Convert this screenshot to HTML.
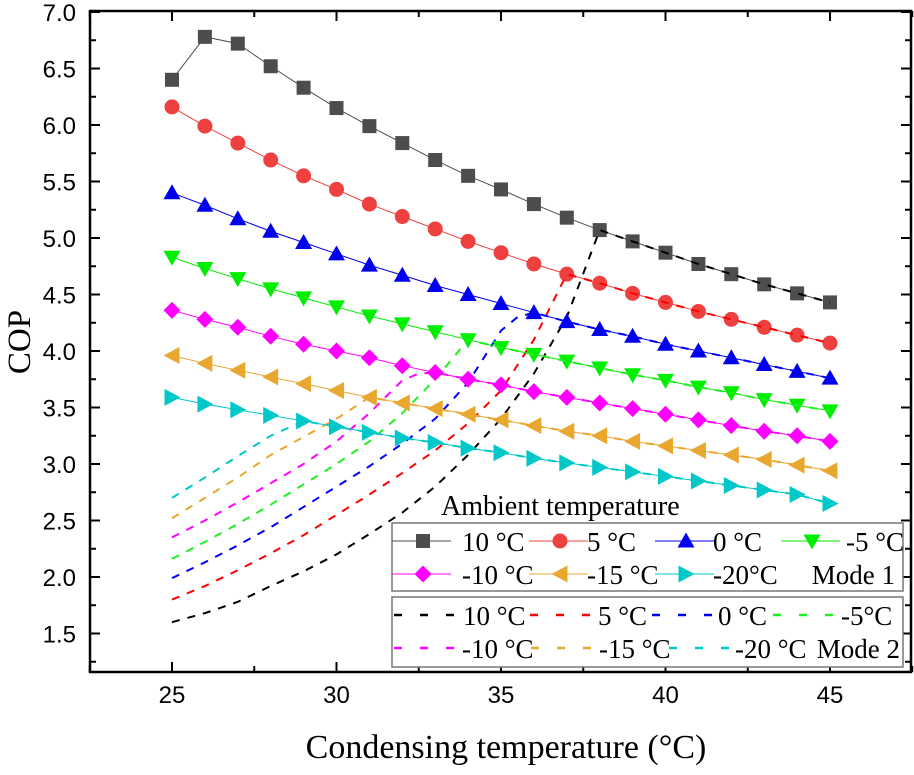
<!DOCTYPE html>
<html><head><meta charset="utf-8"><style>
body{margin:0;background:#fff}
svg text{font-family:"Liberation Serif",serif;fill:#000}
.tk{font-family:"Liberation Sans",sans-serif;font-size:24px}
</style></head><body>
<svg id="chart" width="914" height="770" xmlns="http://www.w3.org/2000/svg"></svg>
<script>
const xCats=[25,26,27,28,29,30,31,32,33,34,35,36,37,38,39,40,41,42,43,44,45];
const m1_10=[6.40,6.78,6.72,6.52,6.33,6.15,5.99,5.84,5.69,5.55,5.43,5.30,5.18,5.07,4.97,4.87,4.77,4.68,4.59,4.51,4.43];
const m1_5=[6.16,5.99,5.84,5.69,5.55,5.43,5.30,5.19,5.08,4.97,4.87,4.77,4.68,4.60,4.51,4.43,4.35,4.28,4.21,4.14,4.07];
const m1_0=[5.40,5.29,5.17,5.06,4.96,4.86,4.76,4.67,4.58,4.50,4.42,4.34,4.26,4.19,4.13,4.06,4.00,3.94,3.88,3.82,3.76];
const m1_n5=[4.83,4.73,4.64,4.55,4.47,4.39,4.31,4.24,4.17,4.10,4.03,3.97,3.91,3.85,3.79,3.74,3.68,3.63,3.57,3.52,3.47];
const m1_n10=[4.36,4.28,4.21,4.13,4.06,4.00,3.94,3.87,3.81,3.75,3.70,3.64,3.59,3.54,3.49,3.44,3.39,3.34,3.29,3.25,3.20];
const m1_n15=[3.96,3.89,3.83,3.77,3.71,3.65,3.59,3.54,3.49,3.44,3.39,3.34,3.29,3.25,3.20,3.16,3.12,3.08,3.04,2.99,2.94];
const m1_n20=[3.59,3.53,3.48,3.43,3.38,3.33,3.28,3.23,3.19,3.14,3.10,3.05,3.01,2.97,2.93,2.89,2.85,2.81,2.77,2.73,2.65];
const m2x_10=[25,26,27,28,29,30,31,32,33,34,35,36,37,38];
const m2y_10=[1.60,1.68,1.78,1.92,2.05,2.20,2.38,2.57,2.80,3.08,3.40,3.80,4.30,5.07];
const m2x_5=[25,26,27,28,29,30,31,32,33,34,35,36,37];
const m2y_5=[1.80,1.92,2.06,2.21,2.37,2.55,2.73,2.92,3.12,3.36,3.65,4.10,4.68];
const m2x_0=[25,26,27,28,29,30,31,32,33,34,35,35.5,36];
const m2y_0=[1.99,2.13,2.28,2.44,2.62,2.80,2.98,3.18,3.40,3.72,4.18,4.30,4.34];
const m2x_n5=[25,26,27,28,29,30,31,32,33,34];
const m2y_n5=[2.16,2.31,2.47,2.64,2.82,3.00,3.20,3.45,3.75,4.10];
const m2x_n10=[25,26,27,28,29,30,31,32,32.5];
const m2y_n10=[2.35,2.50,2.66,2.83,3.00,3.20,3.45,3.74,3.80];
const m2x_n15=[25,26,27,28,29,30,31];
const m2y_n15=[2.52,2.70,2.88,3.08,3.24,3.40,3.59];
const m2x_n20=[25,26,27,28,29];
const m2y_n20=[2.70,2.88,3.07,3.25,3.38];
const xTicks=[25,30,35,40,45];
const yTicks=[1.5,2.0,2.5,3.0,3.5,4.0,4.5,5.0,5.5,6.0,6.5,7.0];

const L=90,R=911,T=11,B=672;
const X=v=>172+(v-25)*32.9;
const Y=v=>12+(7-v)*113;
const svg=document.getElementById('chart');
const NS='http://www.w3.org/2000/svg';
function mk(tag,at,parent){const e=document.createElementNS(NS,tag);for(const k in at)e.setAttribute(k,at[k]);(parent||svg).appendChild(e);return e;}

const frame=mk('rect',{x:L,y:T,width:R-L,height:B-T,fill:'none',stroke:'#000','stroke-width':2.5});


for(let v=22.5;v<=47.5;v+=2.5){const x=X(v);const maj=(v%5===0);
 const t=mk('line',{x1:x,y1:B,x2:x,y2:B-(maj?10:6),stroke:'#000','stroke-width':2});
 
 
 mk('line',{x1:x,y1:T,x2:x,y2:T+(maj?10:6),stroke:'#000','stroke-width':2});}
xTicks.forEach(v=>{const t=mk('text',{x:X(v),y:703,'text-anchor':'middle',class:'tk'});t.textContent=v;
 
 });
for(let v=1.25;v<=7.0001;v+=0.25){const y=Y(v);const maj=Math.abs(v*2-Math.round(v*2))<1e-6;
 mk('line',{x1:L,y1:y,x2:L+(maj?10:6),y2:y,stroke:'#000','stroke-width':2});
 mk('line',{x1:R,y1:y,x2:R-(maj?10:6),y2:y,stroke:'#000','stroke-width':2});}
yTicks.forEach(v=>{const t=mk('text',{x:76,y:Y(v)+9,'text-anchor':'end',class:'tk'});t.textContent=v.toFixed(1);
 
 });
let t=mk('text',{x:506,y:758,'text-anchor':'middle','font-size':34});t.textContent='Condensing temperature (°C)';


t=mk('text',{x:0,y:0,'text-anchor':'middle','font-size':33,transform:'translate(30,342) rotate(-90)'});t.textContent='COP';



function marker(shape,x,y,c,s,parent){
 s=s||7.5;
 if(shape==='sq')return mk('rect',{x:x-s+0.5,y:y-s+0.5,width:2*s-1,height:2*s-1,fill:c},parent);
 if(shape==='ci')return mk('circle',{cx:x,cy:y,r:s,fill:c},parent);
 if(shape==='up')return mk('polygon',{points:`${x},${y-s-1} ${x-s-1},${y+s-1} ${x+s+1},${y+s-1}`,fill:c},parent);
 if(shape==='dn')return mk('polygon',{points:`${x},${y+s+1} ${x-s-1},${y-s+1} ${x+s+1},${y-s+1}`,fill:c},parent);
 if(shape==='di')return mk('polygon',{points:`${x},${y-s-1} ${x+s+1},${y} ${x},${y+s+1} ${x-s-1},${y}`,fill:c},parent);
 if(shape==='lf')return mk('polygon',{points:`${x-s-1},${y} ${x+s},${y-s-1} ${x+s},${y+s+1}`,fill:c},parent);
 if(shape==='rt')return mk('polygon',{points:`${x+s+1},${y} ${x-s},${y-s-1} ${x-s},${y+s+1}`,fill:c},parent);
}
const series=[
 ['10',m1_10,m2x_10,m2y_10,'#4d4d4d','#000','sq'],
 ['5',m1_5,m2x_5,m2y_5,'#ef4040','#f00','ci'],
 ['0',m1_0,m2x_0,m2y_0,'#0000ee','#00f','up'],
 ['n5',m1_n5,m2x_n5,m2y_n5,'#00ee00','#22ee22','dn'],
 ['n10',m1_n10,m2x_n10,m2y_n10,'#ff00ff','#ff00ff','di'],
 ['n15',m1_n15,m2x_n15,m2y_n15,'#e8a830','#e8a830','lf'],
 ['n20',m1_n20,m2x_n20,m2y_n20,'#00c8c8','#00c8c8','rt']];
series.forEach(([n,m1,mx,my,c,dc,sh])=>{
 const g=mk('g',{});
 
 
 mk('polyline',{points:xCats.map((x,i)=>X(x)+','+Y(m1[i])).join(' '),fill:'none',stroke:c,'stroke-width':1},g);
 xCats.forEach((x,i)=>{const m=marker(sh,X(x),Y(m1[i]),c,7.5,g);
  
  });
 const last=mx[mx.length-1];
 const pts=mx.map((x,i)=>X(x)+','+Y(my[i]));
 xCats.forEach((x,i)=>{if(x>last)pts.push(X(x)+','+Y(m1[i]));});
 const d=mk('polyline',{points:pts.join(' '),fill:'none',stroke:dc,'stroke-width':2,'stroke-dasharray':'8,8'});
 
 
});

t=mk('text',{x:441,y:515,'font-size':28});t.textContent='Ambient temperature';


const lg1=mk('g',{});


mk('rect',{x:392,y:523,width:511,height:68,fill:'#fff',stroke:'#777','stroke-width':1.5},lg1);
const lg2=mk('g',{});


mk('rect',{x:392,y:597,width:511,height:70,fill:'#fff',stroke:'#777','stroke-width':1.5},lg2);
const c1=[392,529,655,781], t1=[462,587,713,846];
const d2a=[394,530,652,773], t2a=[463,598,718,841];
const d2b=[394,531,669], t2b=[462,599,735];
const lab1=['10 °C','5 °C','0 °C','-5 °C','-10 °C','-15 °C','-20°C'];
const lab2=['10 °C','5 °C','0 °C','-5°C','-10 °C','-15 °C','-20 °C'];
series.forEach(([n,,,,c,dc,sh],i)=>{
 const row=i<4?0:1, col=i%4;
 const y1=541+row*33, y2=615+row*33;
 const x0=c1[col];
 mk('line',{x1:x0,y1:y1,x2:x0+59,y2:y1,stroke:c,'stroke-width':1},lg1);
 marker(sh,x0+31,y1,c,7.5,lg1);
 let tt=mk('text',{x:t1[col],y:y1+10,'font-size':27},lg1);
 tt.textContent=lab1[i];
 
 
 const dx=row?d2b[col]:d2a[col], tx=row?t2b[col]:t2a[col];
 mk('line',{x1:dx,y1:y2,x2:dx+61,y2:y2,stroke:dc,'stroke-width':2.5,'stroke-dasharray':'8,18'},lg2);
 tt=mk('text',{x:tx,y:y2+10,'font-size':27},lg2);
 tt.textContent=lab2[i];
 
 
});
t=mk('text',{x:895,y:584,'font-size':27,'text-anchor':'end'},lg1);t.textContent='Mode 1';


t=mk('text',{x:900,y:658,'font-size':27,'text-anchor':'end'},lg2);t.textContent='Mode 2';


</script>
</body></html>
